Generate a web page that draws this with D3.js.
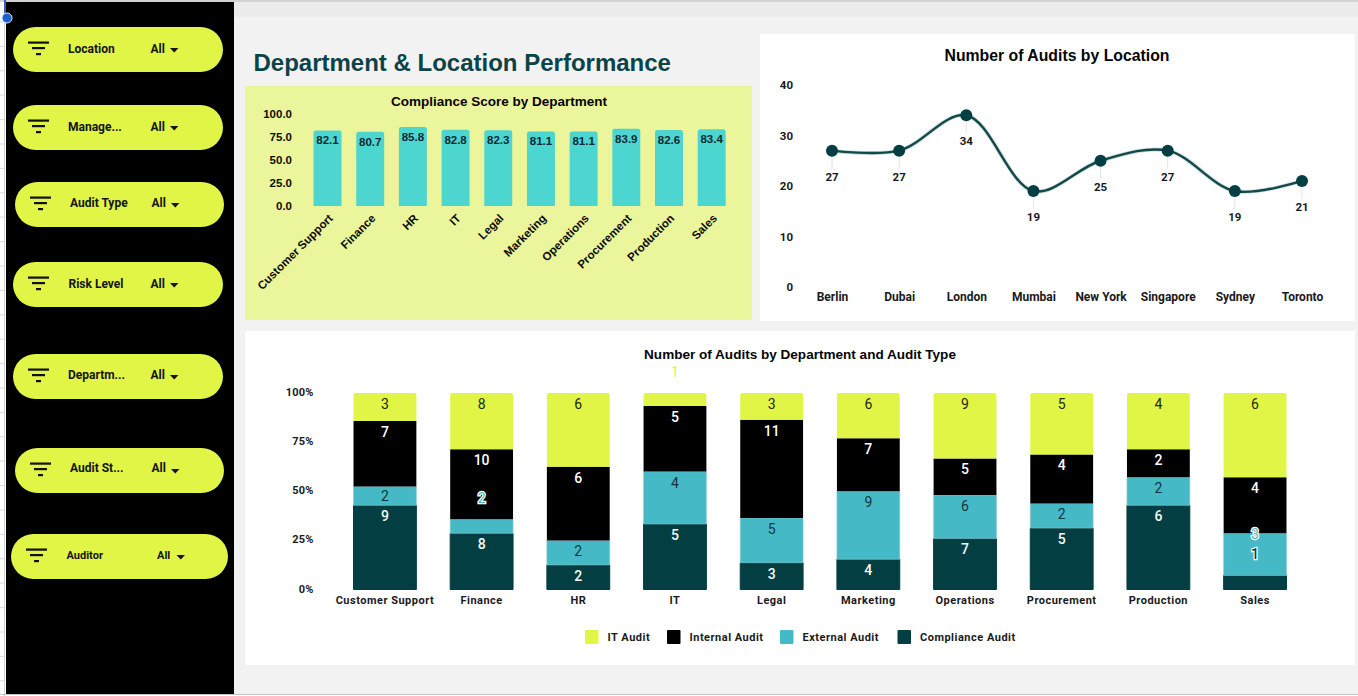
<!DOCTYPE html>
<html>
<head>
<meta charset="utf-8">
<title>Department &amp; Location Performance</title>
<script src="https://cdn.jsdelivr.net/npm/d3@7"></script>
<style>
  html, body { margin: 0; padding: 0; background: #fff; overflow: hidden; }
  svg { display: block; }
  .arial { font-family: "Liberation Sans", Arial, sans-serif; }
  .rob { font-family: Roboto, sans-serif; }
</style>
</head>
<body>
<svg id="dash" width="1358" height="696"></svg>
<script>
// Filter controls
const filterNames = ["Location", "Manage...", "Audit Type", "Risk Level", "Departm...", "Audit St...", "Auditor"];
const filterValue = "All";

// Compliance score by department
const departments = ["Customer Support", "Finance", "HR", "IT", "Legal", "Marketing", "Operations", "Procurement", "Production", "Sales"];
const complianceScores = [82.1, 80.7, 85.8, 82.8, 82.3, 81.1, 81.1, 83.9, 82.6, 83.4];
const scoreTicks = [0, 25, 50, 75, 100];

// Audits by location
const locations = ["Berlin", "Dubai", "London", "Mumbai", "New York", "Singapore", "Sydney", "Toronto"];
const locationAudits = [27, 27, 34, 19, 25, 27, 19, 21];
const auditTicks = [0, 10, 20, 30, 40];

// Audits by department and type
const complianceAudit = [9, 8, 2, 5, 3, 4, 7, 5, 6, 1];
const externalAudit = [2, 2, 2, 4, 5, 9, 6, 2, 2, 3];
const internalAudit = [7, 10, 6, 5, 11, 7, 5, 4, 2, 4];
const itAudit = [3, 8, 6, 1, 3, 6, 9, 5, 4, 6];
const shareTicks = [0, 0.25, 0.5, 0.75, 1];
const legendNames = ["IT Audit", "Internal Audit", "External Audit", "Compliance Audit"];

const INK = "#0b0b0b", DEEP = "#033f42", LIME = "#e0f545", AQUA = "#46b9c7", MINT = "#4dd5d0";

const svg = d3.select("#dash");

// ---------- page frame ----------
svg.append("rect").attr("x", 234).attr("y", 2).attr("width", 1124).attr("height", 692).attr("fill", "#f2f2f2");
svg.append("rect").attr("x", 234).attr("y", 2).attr("width", 1124).attr("height", 15).attr("fill", "#ececec");
svg.append("line").attr("x1", 0).attr("x2", 1358).attr("y1", 1).attr("y2", 1).attr("stroke", "#c4c4c4").attr("stroke-width", 1.5);
svg.append("line").attr("x1", 0).attr("x2", 1358).attr("y1", 694.5).attr("y2", 694.5).attr("stroke", "#c4c4c4");
svg.append("line").attr("x1", 4.5).attr("x2", 4.5).attr("y1", 0).attr("y2", 696).attr("stroke", "#cfcfcf");
d3.range(22, 690, 24.4).forEach(y =>
  svg.append("line").attr("x1", 0).attr("x2", 5).attr("y1", y).attr("y2", y).attr("stroke", "#d8d8d8"));
svg.append("rect").attr("x", 6).attr("y", 2).attr("width", 228).attr("height", 692).attr("fill", "#000");
svg.append("line").attr("x1", 5).attr("x2", 5).attr("y1", 0).attr("y2", 14).attr("stroke", "#2f62c8").attr("stroke-width", 2);
svg.append("circle").attr("cx", 7).attr("cy", 18).attr("r", 5).attr("fill", "#1c5fd0").attr("stroke", "#dfe8fa").attr("stroke-width", 1);

// ---------- filter pills ----------
const pillLayout = [
  { x: 13, y: 27, w: 210, text: 68, all: 150.5, size: 12, mid: 21.7 },
  { x: 13, y: 105, w: 210, text: 68, all: 150.5, size: 12, mid: 21.7 },
  { x: 15, y: 182, w: 209, text: 70, all: 151.5, size: 12, mid: 20.7 },
  { x: 13, y: 262, w: 210, text: 68.5, all: 150.5, size: 12, mid: 21.5 },
  { x: 13, y: 354, w: 210, text: 68, all: 150.5, size: 12, mid: 20.7 },
  { x: 15, y: 448, w: 209, text: 70, all: 151.5, size: 12, mid: 20.2 },
  { x: 11, y: 534, w: 217, text: 66.5, all: 157, size: 11, mid: 21 }
];
filterNames.forEach((name, i) => {
  const p = pillLayout[i];
  const g = svg.append("g").attr("class", "rob");
  g.append("rect").attr("x", p.x).attr("y", p.y).attr("width", p.w).attr("height", 45).attr("rx", 22.5).attr("fill", LIME);
  const ix = p.x + 15;
  [[0, 21, 15.5], [4, 13, 21], [8, 5, 27]].forEach(([dx, w, dy]) =>
    g.append("rect").attr("x", ix + dx).attr("y", p.y + dy - 1).attr("width", w).attr("height", 2.2).attr("fill", "#111"));
  g.append("text").attr("x", p.text).attr("y", p.y + p.mid).attr("dy", "0.35em")
    .attr("font-size", p.size).attr("font-weight", 700).attr("fill", "#141414").text(name);
  g.append("text").attr("x", p.all).attr("y", p.y + p.mid).attr("dy", "0.35em")
    .attr("font-size", p.size).attr("font-weight", 700).attr("fill", "#141414").text(filterValue);
  const ax = p.all + 19.5, ay = p.y + 21;
  g.append("path").attr("d", `M${ax},${ay}h8.5l-4.25,4.5z`).attr("fill", "#141414");
});

// ---------- heading ----------
svg.append("text").attr("class", "arial").attr("x", 253.5).attr("y", 71)
  .attr("font-size", 24).attr("font-weight", 700).attr("fill", "#0a4448").text("Department & Location Performance");

// ---------- compliance score bars ----------
svg.append("rect").attr("x", 245).attr("y", 86).attr("width", 507).attr("height", 234).attr("fill", "#ebf59b");
svg.append("text").attr("class", "arial").attr("x", 499).attr("y", 105.5).attr("text-anchor", "middle")
  .attr("font-size", 13.5).attr("font-weight", 700).attr("fill", "#050505").text("Compliance Score by Department");

const scoreX = d3.scaleBand().domain(departments).range([306.2, 733]).paddingInner(0.345).paddingOuter(0.172);
const scoreY = d3.scaleLinear().domain([0, 100]).range([206, 114]);

const scoreAxis = svg.append("g").attr("class", "arial").attr("transform", "translate(294,0.3)")
  .call(d3.axisLeft(scoreY).tickValues(scoreTicks).tickSize(0).tickPadding(2).tickFormat(d3.format(".1f")));
scoreAxis.select(".domain").remove();
scoreAxis.selectAll("text").attr("font-size", 11.5).attr("font-weight", 700).attr("fill", INK)
  .attr("font-family", "Liberation Sans");

svg.append("g").selectAll("path").data(complianceScores).join("path")
  .attr("fill", MINT)
  .attr("d", (d, i) => {
    const x = scoreX(departments[i]), w = scoreX.bandwidth(), y = scoreY(d), y0 = scoreY(0), r = 2.5;
    return `M${x},${y0}V${y + r}Q${x},${y} ${x + r},${y}H${x + w - r}Q${x + w},${y} ${x + w},${y + r}V${y0}Z`;
  });
svg.append("g").attr("class", "arial").selectAll("text").data(complianceScores).join("text")
  .attr("x", (d, i) => scoreX(departments[i]) + scoreX.bandwidth() / 2)
  .attr("y", d => scoreY(d) + 10).attr("dy", "0.35em").attr("text-anchor", "middle")
  .attr("font-size", 11.5).attr("font-weight", 700).attr("fill", "#0e2a33").text(d => d.toFixed(1));
svg.append("g").attr("class", "arial").selectAll("text").data(departments).join("text")
  .attr("transform", d => `translate(${scoreX(d) + scoreX.bandwidth() / 2 + 6},${scoreY(0) + 13}) rotate(-45)`)
  .attr("text-anchor", "end").attr("font-size", 11.5).attr("font-weight", 700).attr("fill", INK).text(d => d);

// ---------- audits by location ----------
svg.append("rect").attr("x", 760).attr("y", 34).attr("width", 595).attr("height", 287).attr("fill", "#fff");
svg.append("text").attr("class", "arial").attr("x", 1057).attr("y", 61).attr("text-anchor", "middle")
  .attr("font-size", 15.8).attr("font-weight", 700).attr("fill", "#050505").text("Number of Audits by Location");

const locX = d3.scalePoint().domain(locations).range([832, 1302]);
const locY = d3.scaleLinear().domain([0, 40]).range([287, 85]);

const locAxisY = svg.append("g").attr("class", "rob").attr("transform", "translate(793,0)")
  .call(d3.axisLeft(locY).tickValues(auditTicks).tickSize(0).tickPadding(0));
locAxisY.select(".domain").remove();
locAxisY.selectAll("text").attr("font-size", 11.5).attr("font-weight", 700).attr("fill", "#1a1a1a").attr("font-family", "Roboto");
const locAxisX = svg.append("g").attr("class", "rob").attr("transform", "translate(0,292)")
  .call(d3.axisBottom(locX).tickSize(0).tickPadding(0));
locAxisX.select(".domain").remove();
locAxisX.selectAll("text").attr("font-size", 12).attr("font-weight", 700).attr("fill", "#1a1a1a").attr("font-family", "Roboto");

svg.append("g").selectAll("line").data(locationAudits).join("line")
  .attr("x1", (d, i) => locX(locations[i])).attr("x2", (d, i) => locX(locations[i]))
  .attr("y1", d => locY(d)).attr("y2", d => locY(d) + 18).attr("stroke", "#e4e4e4");
const trend = d3.line().x((d, i) => locX(locations[i])).y(d => locY(d)).curve(d3.curveCatmullRom.alpha(0.5));
svg.append("path").attr("d", trend(locationAudits)).attr("fill", "none").attr("stroke", "#c9dedd").attr("stroke-width", 4);
svg.append("path").attr("d", trend(locationAudits)).attr("fill", "none").attr("stroke", "#15484a").attr("stroke-width", 2.4);
svg.append("g").selectAll("circle").data(locationAudits).join("circle")
  .attr("cx", (d, i) => locX(locations[i])).attr("cy", d => locY(d)).attr("r", 6).attr("fill", DEEP);
svg.append("g").attr("class", "rob").selectAll("text").data(locationAudits).join("text")
  .attr("x", (d, i) => locX(locations[i])).attr("y", d => locY(d) + 26).attr("dy", "0.35em").attr("text-anchor", "middle")
  .attr("font-size", 11.5).attr("font-weight", 700).attr("fill", "#1a1a1a").text(d => d);

// ---------- audits by department and type ----------
svg.append("rect").attr("x", 245).attr("y", 331).attr("width", 1110).attr("height", 334).attr("fill", "#fff");
svg.append("text").attr("class", "arial").attr("x", 800).attr("y", 358.5).attr("text-anchor", "middle")
  .attr("font-size", 13.55).attr("font-weight", 700).attr("fill", "#050505").text("Number of Audits by Department and Audit Type");

const seriesStyle = [
  { values: complianceAudit, fill: DEEP, stroke: DEEP, grow: 1, text: "#f4fbfb", weight: 500, outside: DEEP },
  { values: externalAudit, fill: AQUA, stroke: "#8fc6cf", grow: 0.6, text: "#10363c", weight: 400, outside: AQUA },
  { values: internalAudit, fill: "#000", stroke: "none", grow: 0, text: "#ffffff", weight: 500, outside: "#000" },
  { values: itAudit, fill: LIME, stroke: "none", grow: 0, text: "#1c2a12", weight: 400, outside: LIME }
];
const stackRows = departments.map((d, i) => {
  const row = { dept: d };
  seriesStyle.forEach((s, k) => { row[k] = s.values[i]; });
  return row;
});
const stacked = d3.stack().keys([0, 1, 2, 3]).offset(d3.stackOffsetExpand)(stackRows);

const shareX = d3.scaleBand().domain(departments).range([336.6, 1303.4]).paddingInner(0.35).paddingOuter(0.175);
const shareY = d3.scaleLinear().domain([0, 1]).range([589.5, 393]);

const shareAxisY = svg.append("g").attr("transform", "translate(315.5,-1)")
  .call(d3.axisLeft(shareY).tickValues(shareTicks).tickSize(0).tickPadding(2).tickFormat(d3.format(".0%")));
shareAxisY.select(".domain").remove();
shareAxisY.selectAll("text").attr("font-size", 11).attr("font-weight", 700).attr("fill", "#1a1a1a")
  .attr("font-family", "Roboto").attr("letter-spacing", "0.2px");
const shareAxisX = svg.append("g").attr("transform", "translate(0,596)")
  .call(d3.axisBottom(shareX).tickSize(0).tickPadding(0));
shareAxisX.select(".domain").remove();
shareAxisX.selectAll("text").attr("font-size", 11).attr("font-weight", 700).attr("fill", "#1a1a1a")
  .attr("font-family", "Roboto").attr("letter-spacing", "0.5px");

stacked.forEach((layer, k) => {
  const s = seriesStyle[k];
  svg.append("g").selectAll("path").data(layer).join("path")
    .attr("fill", s.fill).attr("stroke", s.stroke).attr("stroke-width", s.grow)
    .attr("d", d => {
      const x = shareX(d.data.dept), w = shareX.bandwidth(), y0 = shareY(d[0]), y1 = shareY(d[1]);
      if (k === 3) {
        const r = 2;
        return `M${x},${y0}V${y1 + r}Q${x},${y1} ${x + r},${y1}H${x + w - r}Q${x + w},${y1} ${x + w},${y1 + r}V${y0}Z`;
      }
      return `M${x},${y0}V${y1}H${x + w}V${y0}Z`;
    });
});

// Labels sit at the top inside a segment. A segment too thin to hold one pushes its label
// above the segment, and the label next up is lifted clear of it; displaced labels get a halo.
const LABEL_GAP = 20;
const labelPlaces = departments.map((dept, b) => {
  let below = Infinity, belowMoved = false;
  return stacked.map(layer => {
    const d = layer[b];
    const top = shareY(d[1]);
    const thin = shareY(d[0]) - top < 18;
    let y = top + (thin ? -21 : 11);
    let moved = thin;
    if (below - y < LABEL_GAP) {
      y = below - LABEL_GAP;
      moved = moved || belowMoved;
    }
    below = y;
    belowMoved = moved;
    return { y, moved };
  });
});
stacked.forEach((layer, k) => {
  const s = seriesStyle[k];
  svg.append("g").attr("class", "rob").selectAll("text").data(layer).join("text")
    .attr("x", d => shareX(d.data.dept) + shareX.bandwidth() / 2)
    .attr("y", (d, b) => labelPlaces[b][k].y).attr("dy", "0.35em").attr("text-anchor", "middle")
    .attr("font-size", 14).attr("font-weight", s.weight)
    .attr("fill", (d, b) => labelPlaces[b][k].moved ? s.outside : s.text)
    .attr("stroke", (d, b) => labelPlaces[b][k].moved ? "#ffffff" : "none")
    .attr("stroke-width", (d, b) => labelPlaces[b][k].moved ? 2.4 : 0)
    .attr("paint-order", "stroke")
    .text(d => d.data[k]);
});

// Legend
const legendX = d3.scaleOrdinal().domain(legendNames).range([585, 667, 780, 897.5]);
const legendFill = d3.scaleOrdinal().domain(legendNames).range([LIME, "#000", AQUA, DEEP]);
legendNames.forEach(name => {
  svg.append("rect").attr("x", legendX(name)).attr("y", 630).attr("width", 13.5).attr("height", 14).attr("rx", 1).attr("fill", legendFill(name));
  svg.append("text").attr("class", "rob").attr("x", legendX(name) + 22.5).attr("y", 637).attr("dy", "0.35em")
    .attr("font-size", 11).attr("font-weight", 700).attr("letter-spacing", "0.5px").attr("fill", "#1a1a1a").text(name);
});
</script>
</body>
</html>
